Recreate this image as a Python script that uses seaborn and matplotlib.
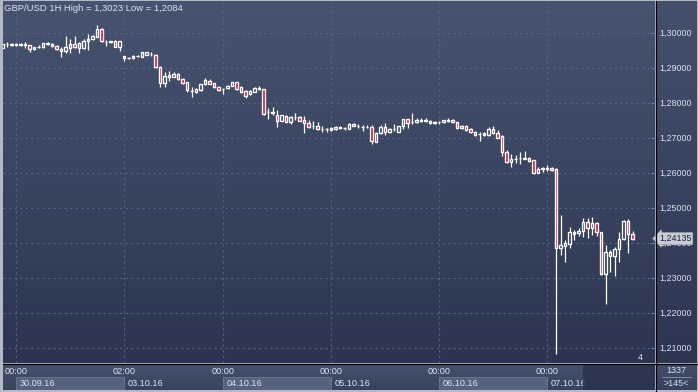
#!/usr/bin/env python3
"""
plot.py - GBP/USD hourly candlestick chart (29.09.16 - 07.10.16, flash crash).
"""
import numpy as np
import pandas as pd
import matplotlib
matplotlib.use('Agg')
import matplotlib.pyplot as plt
import matplotlib.transforms as mtransforms
from matplotlib.colors import LinearSegmentedColormap
from matplotlib.lines import Line2D
from matplotlib.patches import Rectangle
import seaborn as sns

# -- Data -- #

SYMBOL = 'GBP/USD'
TIMEFRAME = '1H'

# hourly sessions: (first bar, number of bars)
SESSIONS = [
    ('2016-09-29 21:00', 3),
    ('2016-09-30 00:00', 24),
    ('2016-10-03 02:00', 22),
    ('2016-10-04 00:00', 24),
    ('2016-10-05 00:00', 24),
    ('2016-10-06 00:00', 24),
    ('2016-10-07 00:00', 20),
]

OPEN = [
    1.2958, 1.2969, 1.2970, 1.2967, 1.2966, 1.2970, 1.2966, 1.2954, 1.2961, 1.2960,
    1.2971, 1.2969, 1.2964, 1.2955, 1.2949, 1.2959, 1.2969, 1.2957, 1.2957, 1.2977,
    1.2984, 1.2990, 1.3011, 1.2976, 1.2975, 1.2978, 1.2962, 1.2934, 1.2929, 1.2929,
    1.2934, 1.2931, 1.2938, 1.2942, 1.2938, 1.2904, 1.2857, 1.2875, 1.2876, 1.2883,
    1.2869, 1.2860, 1.2835, 1.2833, 1.2838, 1.2854, 1.2863, 1.2857, 1.2846, 1.2841,
    1.2843, 1.2849, 1.2861, 1.2845, 1.2835, 1.2826, 1.2833, 1.2843, 1.2841, 1.2775,
    1.2773, 1.2767, 1.2750, 1.2764, 1.2745, 1.2761, 1.2761, 1.2752, 1.2743, 1.2735,
    1.2735, 1.2726, 1.2725, 1.2724, 1.2727, 1.2730, 1.2729, 1.2727, 1.2742, 1.2735,
    1.2733, 1.2732, 1.2733, 1.2690, 1.2714, 1.2731, 1.2719, 1.2725, 1.2719, 1.2735,
    1.2754, 1.2745, 1.2747, 1.2750, 1.2750, 1.2749, 1.2745, 1.2745, 1.2746, 1.2751,
    1.2751, 1.2746, 1.2729, 1.2736, 1.2727, 1.2717, 1.2712, 1.2716, 1.2709, 1.2727,
    1.2714, 1.2707, 1.2660, 1.2633, 1.2641, 1.2643, 1.2643, 1.2643, 1.2637, 1.2602,
    1.2613, 1.2614, 1.2614, 1.2611, 1.2386, 1.2392, 1.2398, 1.2431, 1.2429, 1.2435,
    1.2460, 1.2443, 1.2457, 1.2431, 1.2311, 1.2374, 1.2365, 1.2383, 1.2411, 1.2464,
    1.2426,
]

HIGH = [
    1.2970, 1.2976, 1.2971, 1.2972, 1.2972, 1.2974, 1.2967, 1.2962, 1.2965, 1.2972,
    1.2974, 1.2972, 1.2965, 1.2961, 1.2993, 1.2983, 1.2993, 1.2975, 1.2983, 1.2997,
    1.2995, 1.3023, 1.3016, 1.2981, 1.2979, 1.2982, 1.2978, 1.2936, 1.2932, 1.2937,
    1.2938, 1.2947, 1.2947, 1.2945, 1.2941, 1.2907, 1.2889, 1.2892, 1.2889, 1.2887,
    1.2872, 1.2861, 1.2847, 1.2844, 1.2855, 1.2872, 1.2870, 1.2859, 1.2849, 1.2844,
    1.2851, 1.2862, 1.2862, 1.2849, 1.2838, 1.2838, 1.2845, 1.2849, 1.2842, 1.2787,
    1.2789, 1.2781, 1.2767, 1.2765, 1.2763, 1.2773, 1.2764, 1.2764, 1.2752, 1.2749,
    1.2745, 1.2735, 1.2730, 1.2732, 1.2735, 1.2735, 1.2733, 1.2743, 1.2743, 1.2740,
    1.2738, 1.2739, 1.2739, 1.2718, 1.2738, 1.2743, 1.2729, 1.2740, 1.2736, 1.2755,
    1.2755, 1.2771, 1.2758, 1.2757, 1.2757, 1.2753, 1.2749, 1.2749, 1.2753, 1.2759,
    1.2754, 1.2747, 1.2738, 1.2738, 1.2729, 1.2720, 1.2717, 1.2718, 1.2733, 1.2736,
    1.2724, 1.2709, 1.2667, 1.2654, 1.2652, 1.2660, 1.2664, 1.2647, 1.2638, 1.2618,
    1.2619, 1.2624, 1.2619, 1.2614, 1.2481, 1.2409, 1.2447, 1.2438, 1.2443, 1.2471,
    1.2471, 1.2476, 1.2461, 1.2432, 1.2395, 1.2381, 1.2390, 1.2431, 1.2467, 1.2469,
    1.2435,
]

LOW = [
    1.2957, 1.2962, 1.2964, 1.2964, 1.2964, 1.2959, 1.2946, 1.2953, 1.2958, 1.2959,
    1.2967, 1.2962, 1.2952, 1.2933, 1.2943, 1.2943, 1.2958, 1.2943, 1.2955, 1.2952,
    1.2982, 1.2989, 1.2976, 1.2964, 1.2972, 1.2961, 1.2950, 1.2921, 1.2927, 1.2925,
    1.2932, 1.2931, 1.2937, 1.2935, 1.2901, 1.2847, 1.2847, 1.2864, 1.2875, 1.2867,
    1.2855, 1.2832, 1.2817, 1.2829, 1.2835, 1.2851, 1.2854, 1.2844, 1.2835, 1.2827,
    1.2841, 1.2848, 1.2839, 1.2829, 1.2816, 1.2824, 1.2832, 1.2839, 1.2767, 1.2754,
    1.2767, 1.2733, 1.2749, 1.2744, 1.2742, 1.2752, 1.2749, 1.2716, 1.2729, 1.2726,
    1.2724, 1.2718, 1.2717, 1.2721, 1.2724, 1.2725, 1.2724, 1.2725, 1.2735, 1.2729,
    1.2722, 1.2729, 1.2684, 1.2689, 1.2712, 1.2709, 1.2715, 1.2722, 1.2718, 1.2726,
    1.2729, 1.2740, 1.2744, 1.2746, 1.2747, 1.2740, 1.2740, 1.2740, 1.2744, 1.2746,
    1.2744, 1.2727, 1.2727, 1.2722, 1.2714, 1.2707, 1.2693, 1.2707, 1.2707, 1.2712,
    1.2700, 1.2650, 1.2629, 1.2619, 1.2630, 1.2627, 1.2641, 1.2632, 1.2599, 1.2601,
    1.2603, 1.2607, 1.2607, 1.2084, 1.2367, 1.2347, 1.2386, 1.2409, 1.2421, 1.2419,
    1.2414, 1.2424, 1.2421, 1.2310, 1.2226, 1.2319, 1.2307, 1.2347, 1.2409, 1.2373,
    1.2409,
]

CLOSE = [
    1.2969, 1.2970, 1.2967, 1.2968, 1.2970, 1.2966, 1.2954, 1.2961, 1.2962, 1.2971,
    1.2970, 1.2964, 1.2954, 1.2950, 1.2960, 1.2970, 1.2960, 1.2971, 1.2978, 1.2984,
    1.2992, 1.3012, 1.2978, 1.2975, 1.2977, 1.2962, 1.2978, 1.2929, 1.2930, 1.2935,
    1.2936, 1.2946, 1.2946, 1.2941, 1.2903, 1.2857, 1.2879, 1.2881, 1.2884, 1.2869,
    1.2859, 1.2838, 1.2836, 1.2840, 1.2854, 1.2865, 1.2856, 1.2846, 1.2838, 1.2842,
    1.2849, 1.2861, 1.2841, 1.2831, 1.2821, 1.2836, 1.2844, 1.2841, 1.2770, 1.2776,
    1.2774, 1.2750, 1.2765, 1.2745, 1.2762, 1.2762, 1.2750, 1.2743, 1.2733, 1.2736,
    1.2726, 1.2727, 1.2726, 1.2729, 1.2732, 1.2731, 1.2728, 1.2742, 1.2736, 1.2735,
    1.2732, 1.2733, 1.2692, 1.2714, 1.2731, 1.2717, 1.2725, 1.2726, 1.2735, 1.2754,
    1.2743, 1.2746, 1.2752, 1.2751, 1.2751, 1.2743, 1.2744, 1.2746, 1.2752, 1.2750,
    1.2746, 1.2729, 1.2736, 1.2724, 1.2717, 1.2709, 1.2711, 1.2709, 1.2727, 1.2714,
    1.2702, 1.2660, 1.2633, 1.2641, 1.2642, 1.2643, 1.2642, 1.2636, 1.2602, 1.2611,
    1.2614, 1.2613, 1.2609, 1.2386, 1.2395, 1.2400, 1.2431, 1.2426, 1.2435, 1.2460,
    1.2443, 1.2457, 1.2431, 1.2311, 1.2374, 1.2365, 1.2383, 1.2412, 1.2464, 1.2426,
    1.24135,
]

PRICE_TICKS = [1.21, 1.22, 1.23, 1.24, 1.25, 1.26, 1.27, 1.28, 1.29, 1.30]

BAR_COUNT = '1337'
VISIBLE_BARS = 145
SCROLL_COUNT = '4'

# -- Styles -- #

W, H = 698, 392
FRAME = '#b4b9c3'
BG_TOP, BG_BOTTOM = '#47546f', '#2b3551'
STRIP_TOP, STRIP_BOTTOM = '#45516d', '#38435e'
BOX_FILL, BOX_EDGE = '#56637f', '#6b7893'
GRID = '#58647f'
TEXT = '#dbe3f2'
RED = '#e3173a'
WICK = 'white'

XMIN, XMAX = 0.11, 145.0
YMIN, YMAX = 1.2058, 1.3092


def fmt(v, digits=5):
    return f'{v:.{digits}f}'.replace('.', ',')


def px_rect(x0, y0, x1, y1):
    # pixel box (top-left origin) -> figure fraction rect
    return [x0 / W, 1 - y1 / H, (x1 - x0) / W, (y1 - y0) / H]


def paint(axis, top, bottom):
    cmap = LinearSegmentedColormap.from_list('bg', [bottom, top])
    axis.imshow(np.linspace(0, 1, 256).reshape(-1, 1), cmap=cmap,
                origin='lower', extent=(0, 1, 0, 1),
                transform=axis.transAxes, aspect='auto', zorder=0)
    for s in axis.spines.values():
        s.set_visible(False)


sns.set_theme(style='dark', rc={'axes.facecolor': BG_BOTTOM,
                                'figure.facecolor': FRAME})
plt.rcParams['font.family'] = ['Liberation Sans', 'DejaVu Sans']

times = pd.DatetimeIndex(np.concatenate(
    [pd.date_range(s, periods=n, freq='h').values for s, n in SESSIONS]))
df = pd.DataFrame({'time': times, 'open': OPEN, 'high': HIGH,
                   'low': LOW, 'close': CLOSE})
df['x'] = np.arange(len(df))
df['body_lo'] = df[['open', 'close']].min(axis=1)
df['body_hi'] = df[['open', 'close']].max(axis=1)
up = df.close >= df.open

fig = plt.figure(figsize=(W / 100, H / 100), dpi=100)
ax = fig.add_axes(px_rect(3, 1, 655, 363))
ax_r = fig.add_axes(px_rect(656, 1, 697, 363), sharey=ax)
ax_b = fig.add_axes(px_rect(3, 364, 655, 390), sharex=ax)
ax_c = fig.add_axes(px_rect(656, 364, 697, 390))

for a, (t, b) in zip([ax, ax_r, ax_b, ax_c],
                     [(BG_TOP, BG_BOTTOM), ('#44506c', '#2c3652'),
                      (STRIP_TOP, STRIP_BOTTOM), ('#424e6a', '#37425d')]):
    paint(a, t, b)

# -- candles -- #
ax.vlines(df.x, df.body_hi, df.high, color=WICK, lw=0.9, zorder=3)
ax.vlines(df.x, df.low, df.body_lo, color=WICK, lw=0.9, zorder=3)
ax.bar(df.x, df.body_hi - df.body_lo, bottom=df.body_lo, width=0.62,
       color=np.where(up, 'none', RED), edgecolor=WICK, linewidth=0.95,
       zorder=4)

# day boundaries
day_first = df.groupby(df.time.dt.date).x.min().iloc[1:]
starts = list(day_first.values)

ax.set_xticks(starts)
ax.set_yticks(PRICE_TICKS)
ax.grid(True, color=GRID, ls=(0, (2, 3)), lw=0.8)
ax.tick_params(axis='x', length=0, labelbottom=False)
ax.tick_params(axis='y', left=False, right=True, direction='in', length=3,
               width=0.8, color='#5f82bf', labelleft=False, labelright=False)

title = (f'{SYMBOL} {TIMEFRAME} High = {fmt(df.high.max(), 4)} '
         f'Low = {fmt(df.low.min(), 4)}')
ax.text(0.002, 0.993, title, transform=ax.transAxes, ha='left', va='top',
        fontsize=6.8, color=TEXT, zorder=6)

# -- right price scale -- #
rt = mtransforms.blended_transform_factory(ax_r.transAxes, ax_r.transData)
for v in PRICE_TICKS:
    ax_r.text(0.07, v, fmt(v), transform=rt, ha='left', va='center',
              fontsize=6.4, color=TEXT)
last = df.close.iloc[-1]
ax_r.text(0.07, last, fmt(last), transform=rt, ha='left', va='center',
          fontsize=6.4, color='#15203a', clip_on=False, zorder=8,
          bbox=dict(boxstyle='larrow,pad=0.15', fc='#c9cdd5', ec='#a9afba',
                    lw=0.5))
ax_r.tick_params(left=False, bottom=False, labelleft=False,
                 labelbottom=False)

# -- bottom time strip -- #
bt = mtransforms.blended_transform_factory(ax_b.transData, ax_b.transAxes)
bounds = starts + [XMAX]
for k, (i0, i1) in enumerate(zip(bounds[:-1], bounds[1:])):
    t = df.time.iloc[i0]
    if k % 2 == 0:
        ax_b.add_patch(Rectangle((i0, 0.0), i1 - i0, 0.5, transform=bt,
                                 fc=BOX_FILL, ec=BOX_EDGE, lw=0.6, zorder=2))
    ax_b.text(i0, 0.70, t.strftime('%H:%M'), transform=bt, ha='center',
              va='center', fontsize=6.6, color=TEXT, zorder=3)
    ax_b.text(i0 + 0.9, 0.25, t.strftime('%d.%m.%y'), transform=bt,
              ha='left', va='center', fontsize=6.6, color=TEXT, zorder=3)
ax_b.axvspan(129.0, XMAX, color='#29334d', alpha=0.85, lw=0, zorder=5)
ax_b.tick_params(left=False, bottom=False, labelleft=False,
                 labelbottom=False)
ax_b.set_ylim(0, 1)

# -- corner cell -- #
ax_c.text(0.5, 0.76, BAR_COUNT, transform=ax_c.transAxes, ha='center',
          va='center', fontsize=6.4, color=TEXT)
ax_c.plot([0.15, 0.85], [0.5, 0.5], transform=ax_c.transAxes,
          color='#8b97b0', lw=0.6)
ax_c.text(0.5, 0.25, f'>{VISIBLE_BARS}<', transform=ax_c.transAxes,
          ha='center', va='center', fontsize=6.4, color=TEXT)
ax_c.set_xlim(0, 1)
ax_c.set_ylim(0, 1)
ax_c.tick_params(left=False, bottom=False, labelleft=False,
                 labelbottom=False)

fig.text(640 / W, 1 - 358 / H, SCROLL_COUNT, ha='center', va='center',
         fontsize=6.4, color=TEXT)

# separators
fig.add_artist(Line2D([655.5 / W] * 2, [1 - 391 / H, 1 - 1 / H],
                      transform=fig.transFigure, color='black', lw=0.9))
fig.add_artist(Line2D([3 / W, 697 / W], [1 - 363.5 / H] * 2,
                      transform=fig.transFigure, color='black', lw=0.9))

ax.set_xlim(XMIN, XMAX)
ax.set_ylim(YMIN, YMAX)

fig.savefig('out.png', dpi=100, facecolor=FRAME)
